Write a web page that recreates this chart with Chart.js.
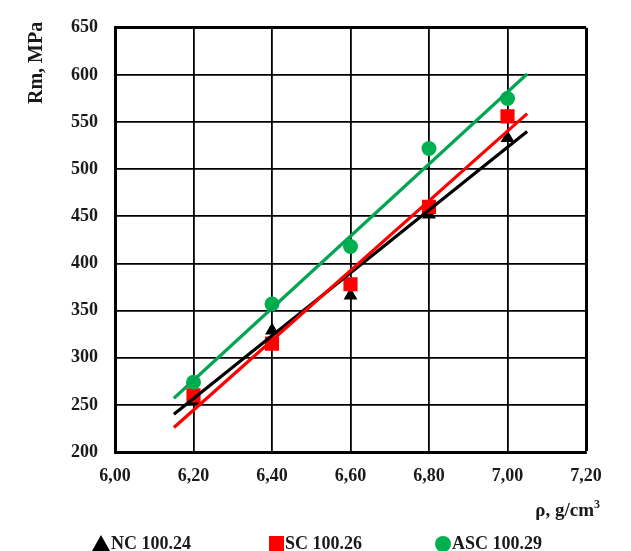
<!DOCTYPE html>
<html>
<head>
<meta charset="utf-8">
<script src="https://cdn.jsdelivr.net/npm/chart.js@4/dist/chart.umd.min.js"></script>
<style>
  html, body { margin: 0; padding: 0; background: #fff; }
  #wrap { position: relative; width: 631px; height: 551px; }
</style>
</head>
<body>
<div id="wrap"><canvas id="c" width="631" height="551"></canvas></div>
<script>
// ---- data ----
const densities = [6.2, 6.4, 6.6, 6.8, 7.0];
const ncValues  = [255, 329, 366, 452, 533];
const scValues  = [260, 315, 378, 460, 556];
const ascValues = [274, 357, 418, 522, 575];
const trendX    = [6.15, 7.05];
const ncTrend   = [240, 540];
const scTrend   = [226, 559];
const ascTrend  = [257, 601];
const seriesNames = ['NC 100.24', 'SC 100.26', 'ASC 100.29'];
const xTitle = 'ρ, g/cm';
const yTitle = 'Rm, MPa';

const GREEN = '#00a651', RED = '#ff0000', BLACK = '#000000';
const FONT = '"Liberation Serif", "Times New Roman", serif';

function pts(xs, ys) { return xs.map((x, i) => ({ x: x, y: ys[i] })); }

const titlesAndLegend = {
  id: 'titlesAndLegend',
  afterDraw(chart) {
    const ctx = chart.ctx;
    ctx.save();
    ctx.fillStyle = '#1a1a1a';
    // y title
    ctx.font = 'bold 20px ' + FONT;
    ctx.translate(37, 104);
    ctx.rotate(-Math.PI / 2);
    ctx.textAlign = 'left';
    ctx.textBaseline = 'middle';
    ctx.fillText(yTitle, 0, 0);
    ctx.restore();

    ctx.save();
    ctx.fillStyle = '#1a1a1a';
    ctx.font = 'bold 19px ' + FONT;
    ctx.textAlign = 'left';
    ctx.textBaseline = 'alphabetic';
    const w = ctx.measureText(xTitle).width;
    const x0 = 594 - w;
    ctx.fillText(xTitle, x0, 516);
    ctx.font = 'bold 12px ' + FONT;
    ctx.fillText('3', x0 + w, 508);

    // legend
    ctx.font = 'bold 18px ' + FONT;
    ctx.textBaseline = 'middle';
    const ly = 544;
    // triangle
    ctx.fillStyle = BLACK;
    ctx.beginPath();
    ctx.moveTo(101, ly - 9); ctx.lineTo(110, ly + 7); ctx.lineTo(92, ly + 7); ctx.closePath();
    ctx.fill();
    ctx.fillStyle = '#1a1a1a';
    ctx.fillText(seriesNames[0], 111, ly);
    // square
    ctx.fillStyle = RED;
    ctx.fillRect(269, ly - 8, 15, 15);
    ctx.fillStyle = '#1a1a1a';
    ctx.fillText(seriesNames[1], 285, ly);
    // circle
    ctx.fillStyle = '#00b050';
    ctx.beginPath(); ctx.arc(443, ly, 8, 0, Math.PI * 2); ctx.fill();
    ctx.fillStyle = '#1a1a1a';
    ctx.fillText(seriesNames[2], 452, ly);
    ctx.restore();
  }
};

new Chart(document.getElementById('c'), {
  type: 'scatter',
  data: {
    datasets: [
      { type: 'line', label: 'ASC trend', data: pts(trendX, ascTrend), borderColor: GREEN, borderWidth: 3.2, pointRadius: 0, fill: false, order: 0 },
      { type: 'line', label: 'SC trend',  data: pts(trendX, scTrend),  borderColor: RED,   borderWidth: 3.2, pointRadius: 0, fill: false, order: 0 },
      { type: 'line', label: 'NC trend',  data: pts(trendX, ncTrend),  borderColor: BLACK, borderWidth: 3.2, pointRadius: 0, fill: false, order: 0 },
      { label: seriesNames[2], data: pts(densities, ascValues), pointStyle: 'circle',   pointRadius: 7.5, backgroundColor: '#00b050', borderColor: '#00b050', borderWidth: 0, order: 1 },
      { label: seriesNames[1], data: pts(densities, scValues),  pointStyle: 'rect',     pointRadius: 10,  backgroundColor: RED,   borderColor: RED,   borderWidth: 0, order: 1 },
      { label: seriesNames[0], data: pts(densities, ncValues),  pointStyle: 'triangle', pointRadius: 8,   backgroundColor: BLACK, borderColor: BLACK, borderWidth: 0, order: 1 }
    ]
  },
  options: {
    responsive: false,
    animation: false,
    layout: { padding: { left: 0, right: 45, top: 20, bottom: 0 } },
    plugins: { legend: { display: false }, tooltip: { enabled: false } },
    scales: {
      x: {
        type: 'linear', min: 6.0, max: 7.2,
        afterFit(s) { s.height = 99; },
        ticks: {
          stepSize: 0.2, padding: 14, color: '#1a1a1a',
          font: { family: FONT, size: 18, weight: 'bold' },
          callback: v => v.toFixed(2).replace('.', ',')
        },
        grid: {
          color: '#000', drawTicks: false,
          lineWidth: c => (Math.abs(c.tick.value - 7.2) < 1e-6 ? 3 : 1.8)
        },
        border: { color: '#000', width: 3 }
      },
      y: {
        min: 200, max: 650,
        afterFit(s) { s.width = 115; },
        ticks: {
          stepSize: 50, padding: 17, color: '#1a1a1a',
          font: { family: FONT, size: 18, weight: 'bold' }
        },
        grid: {
          color: '#000', drawTicks: false,
          lineWidth: c => (c.tick.value === 650 ? 3 : 1.8)
        },
        border: { color: '#000', width: 3 }
      }
    }
  },
  plugins: [titlesAndLegend]
});
</script>
</body>
</html>
